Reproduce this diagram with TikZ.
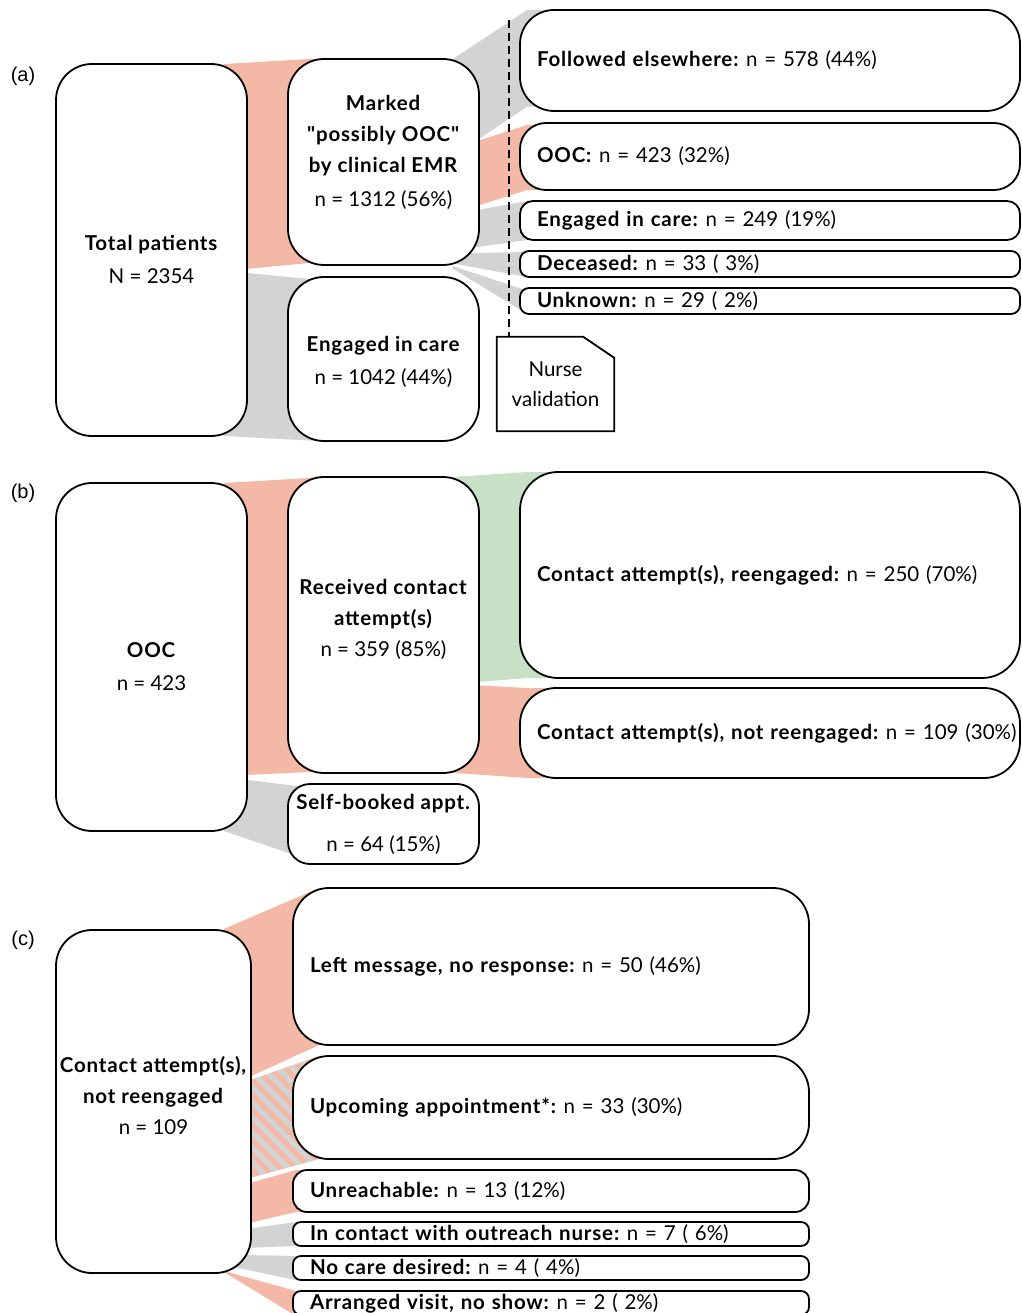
\documentclass[tikz,border=0pt]{standalone}
\usepackage{fontspec}
\setmainfont{Lato}[Ligatures=TeXOff, BoldFeatures={LetterSpace=4}]
\newfontfamily\labelfont{Liberation Sans}
\usetikzlibrary{calc}
\definecolor{flowred}{RGB}{244,184,166}
\definecolor{flowgrey}{RGB}{211,211,211}
\definecolor{flowgreen}{RGB}{200,224,197}
\pgfdeclarelayer{bg}
\pgfsetlayers{bg,main}
\frenchspacing
% #1 colour, #2 left node, #3 right node, #4 left x offset, #5 right x offset,
% #6 left top y, #7 right top y, #8 right bottom y, #9 left bottom y
\newcommand\flowband[9]{%
  \fill[#1] let \p1=(#2.east), \p2=(#3.west) in
   ({\x1+#4pt},{-#6pt}) -- ({\x2+#5pt},{-#7pt}) -- ({\x2+#5pt+30pt},{-#7pt})
   -- ({\x2+#5pt+30pt},{-#8pt}) -- ({\x2+#5pt},{-#8pt}) -- ({\x1+#4pt},{-#9pt}) -- cycle;}
\begin{document}
\frenchspacing
\begin{tikzpicture}[x=1pt,y=-1pt,
  rbox/.style={draw=black, fill=white, line width=1.8pt, inner sep=0pt, align=center,
    font=\frenchspacing\fontsize{20.5}{31}\selectfont},
  wbox/.style={rbox, align=left, inner xsep=17pt, inner ysep=0pt},
  txt/.style={inner sep=0pt, align=center, font=\frenchspacing\fontsize{20.5}{31}\selectfont},
  plabel/.style={inner sep=0pt, font=\labelfont\fontsize{20}{22}\selectfont}]
\useasboundingbox (0,0) rectangle (1021,1313);

% ---------------- (a) ----------------
\node[plabel] (la) at (23,76) {(a)};
\node[rbox, minimum width=191pt, minimum height=372pt, rounded corners=36pt] (tot) at (151.5,250) {};
\node[txt] (tott) at (151.5,259.5) {\textbf{Total patients}\\[2pt] N = 2354};
\node[rbox, minimum width=191pt, minimum height=206pt, rounded corners=36pt] (marked) at (383.5,162) {};
\node[txt] (markedt) at (383.5,152) {\textbf{Marked}\\ \textbf{"possibly OOC"}\\ \textbf{by clinical EMR}\\[3pt] n = 1312 (56\%)};
\node[rbox, minimum width=191pt, minimum height=164pt, rounded corners=36pt] (eng) at (383.5,359) {};
\node[txt] (engt) at (383.5,361.5) {\textbf{Engaged in care}\\[2pt] n = 1042 (44\%)};

\node[wbox, text width=466pt, minimum height=101pt, rounded corners=34pt] (fol) at (770,60.5) {\textbf{Followed elsewhere:} n = 578 (44\%)};
\node[wbox, text width=466pt, minimum height=67pt, rounded corners=26pt] (ooc) at (770,156.5) {\textbf{OOC:} n = 423 (32\%)};
\node[wbox, text width=466pt, minimum height=39pt, rounded corners=13pt] (engr) at (770,220.5) {\textbf{Engaged in care:} n = 249 (19\%)};
\node[wbox, text width=466pt, minimum height=26pt, rounded corners=9pt] (dec) at (770,264) {\textbf{Deceased:} n = 33 ( 3\%)};
\node[wbox, text width=466pt, minimum height=26pt, rounded corners=9pt] (unk) at (770,301) {\textbf{Unknown:} n = 29 ( 2\%)};

\node[inner sep=0pt, minimum width=117pt, minimum height=94pt, align=center,
  font=\fontsize{20.5}{30}\selectfont] (nurse) at (555.5,384) {Nurse\\validation};
\draw[line width=1.8pt, line join=miter] (nurse.south west) -- (nurse.north west) -- ([xshift=-31pt]nurse.north east)
  -- ([yshift=-21pt]nurse.north east) -- (nurse.south east) -- cycle;
\coordinate (dtop) at (509,20);
\draw[line width=1.8pt, dash pattern=on 8pt off 5pt] (dtop) -- (dtop |- nurse.north);

\begin{pgfonlayer}{bg}
\flowband{flowred}{tot}{marked}{-24}{22}{64}{59}{263}{271}
\flowband{flowgrey}{tot}{eng}{-24}{22}{270.7}{279}{440.5}{436}
\flowband{flowgrey}{marked}{fol}{-27}{8}{59}{10}{106.7}{156.7}
\flowband{flowred}{marked}{ooc}{-27}{8}{148.75}{125}{190}{213.5}
\flowband{flowgrey}{marked}{engr}{-27}{8}{214.5}{201}{240}{250.5}
\flowband{flowgrey}{marked}{dec}{-27}{8}{253.5}{252}{277}{263.4}
\flowband{flowgrey}{marked}{unk}{-27}{8}{266}{290.6}{314}{268.7}
\end{pgfonlayer}

% ---------------- (b) ----------------
\node[plabel] (lb) at (23,493) {(b)};
\node[rbox, minimum width=191pt, minimum height=348pt, rounded corners=36pt] (ooc2) at (151.5,657) {};
\node[txt] (ooc2t) at (151.5,666.5) {\textbf{OOC}\\[2pt] n = 423};
\node[rbox, minimum width=191pt, minimum height=296pt, rounded corners=36pt] (recv) at (383.5,625) {};
\node[txt] (recvt) at (383.5,619.5) {\textbf{Received contact}\\ \textbf{attempt(s)}\\ n = 359 (85\%)};
\node[rbox, minimum width=191pt, minimum height=80pt, rounded corners=22pt] (self) at (383.5,824) {};
\node[txt] (selft) at (383.5,824) {\textbf{Self-booked appt.}\\[11pt] n = 64 (15\%)};
\node[wbox, text width=466pt, minimum height=206pt, rounded corners=38pt] (reng) at (770,575) {\textbf{Contact attempt(s), reengaged:} n = 250 (70\%)};
\node[wbox, text width=466pt, minimum height=90pt, rounded corners=36pt] (nreng) at (770,733) {\mbox{\textbf{Contact attempt(s), not reengaged:} n = 109 (30\%)}};

\begin{pgfonlayer}{bg}
\flowband{flowred}{ooc2}{recv}{-24}{22}{483}{478}{772}{776}
\flowband{flowgrey}{ooc2}{self}{-24}{22}{777}{787.6}{860}{831}
\flowband{flowgreen}{recv}{reng}{-27}{8}{477}{472}{678}{684}
\flowband{flowred}{recv}{nreng}{-27}{8}{684}{688}{778}{772.8}
\end{pgfonlayer}

% ---------------- (c) ----------------
\node[plabel] (lc) at (23,940) {(c)};
\node[rbox, minimum width=195pt, minimum height=343pt, rounded corners=36pt] (cnr) at (153.5,1101.5) {};
\node[txt] (cnrt) at (153.5,1095.5) {\textbf{Contact attempt(s),}\\ \textbf{not reengaged}\\ n = 109};
\node[wbox, text width=482pt, minimum height=157pt, rounded corners=36pt] (lm) at (551,966.5) {\textbf{Left message, no response:} n = 50 (46\%)};
\node[wbox, text width=482pt, minimum height=103pt, rounded corners=36pt] (up) at (551,1107.5) {\textbf{Upcoming appointment*:} n = 33 (30\%)};
\node[wbox, text width=482pt, minimum height=42pt, rounded corners=14pt] (unr) at (551,1191) {\textbf{Unreachable:} n = 13 (12\%)};
\node[wbox, text width=482pt, minimum height=24pt, rounded corners=8pt] (inc) at (551,1234) {\textbf{In contact with outreach nurse:} n = 7 ( 6\%)};
\node[wbox, text width=482pt, minimum height=24pt, rounded corners=8pt] (noc) at (551,1268) {\textbf{No care desired:} n = 4 ( 4\%)};
\node[wbox, text width=482pt, minimum height=24pt, rounded corners=8pt] (arr) at (551,1303) {\textbf{Arranged visit, no show:} n = 2 ( 2\%)};

\begin{pgfonlayer}{bg}
\flowband{flowred}{cnr}{lm}{-28}{27}{928.9}{888}{1045}{1088.5}
\begin{scope}
  \clip let \p1=(cnr.east), \p2=(up.west) in
   ({\x1-28pt},-1089.2pt) -- ({\x2+27pt},-1056pt) -- ({\x2+57pt},-1056pt) -- ({\x2+57pt},-1159pt)
   -- ({\x2+27pt},-1159pt) -- ({\x1-28pt},-1185pt) -- cycle;
  \fill[flowred] (150,1000) rectangle (400,1250);
  \foreach \k in {0,15,...,330} \draw[flowgrey, line width=5.3pt] (\k,1000) -- ++(250,250);
\end{scope}
\flowband{flowred}{cnr}{unr}{-28}{4}{1190.2}{1170}{1212}{1228.8}
\flowband{flowgrey}{cnr}{inc}{-28}{4}{1232}{1222}{1246}{1248.7}
\flowband{flowgrey}{cnr}{noc}{-28}{4}{1254.6}{1256}{1280}{1265}
\flowband{flowred}{cnr}{arr}{-28}{4}{1271}{1291}{1316}{1272}
\end{pgfonlayer}
\end{tikzpicture}
\end{document}
